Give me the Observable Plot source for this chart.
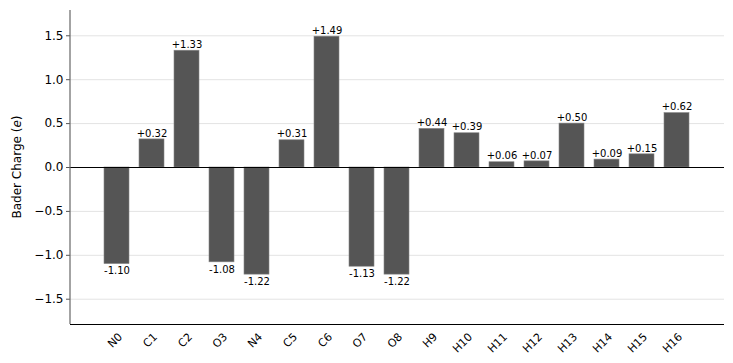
<!DOCTYPE html>
<html>
<head>
<meta charset="utf-8">
<script src="https://cdn.jsdelivr.net/npm/d3@7"></script>
<script src="https://cdn.jsdelivr.net/npm/@observablehq/plot@0.6"></script>
<style>
  html, body { margin: 0; padding: 0; background: #fff; }
  svg { font-family: "DejaVu Sans", sans-serif; }
</style>
</head>
<body>
<div id="chart"></div>
<script>
const atoms = ["N0","C1","C2","O3","N4","C5","C6","O7","O8","H9","H10","H11","H12","H13","H14","H15","H16"];
const charges = [-1.10, 0.32, 1.33, -1.08, -1.22, 0.31, 1.49, -1.13, -1.22, 0.44, 0.39, 0.06, 0.07, 0.50, 0.09, 0.15, 0.62];
const yTicks = [-1.5, -1.0, -0.5, 0.0, 0.5, 1.0, 1.5];

const data = atoms.map((a, i) => ({atom: a, q: charges[i]}));
const lim = 1.2 * d3.max(charges, Math.abs);
const fmtLabel = v => (v >= 0 ? "+" : "") + v.toFixed(2);
const fmtTick = d3.format(".1f");

const W = 733, H = 363;
const mL = 70, mR = 9, mT = 10, mB = 39;

const chart = Plot.plot({
  width: W,
  height: H,
  marginLeft: mL,
  marginRight: mR,
  marginTop: mT,
  marginBottom: mB,
  style: {fontFamily: "DejaVu Sans, sans-serif", background: "#fff"},
  x: {domain: atoms, range: [99.3, 694], paddingInner: 0.3, paddingOuter: 0, label: null, axis: null},
  y: {domain: [-lim, lim], label: null},
  marks: [
    Plot.ruleY(yTicks, {stroke: "#e3e3e3", strokeWidth: 1}),
    Plot.barY(data, {x: "atom", y: "q", fill: "#555555", stroke: "#888888", strokeWidth: 0.6}),
    Plot.ruleY([0], {stroke: "#000", strokeWidth: 1}),
    Plot.text(data.filter(d => d.q >= 0), {x: "atom", y: "q", text: d => fmtLabel(d.q), dy: -6, fontSize: 10, fill: "#000"}),
    Plot.text(data.filter(d => d.q < 0), {x: "atom", y: "q", text: d => fmtLabel(d.q), dy: 7, fontSize: 10, fill: "#000"}),
    Plot.axisY({ticks: yTicks, tickFormat: fmtTick, tickSize: 4, tickPadding: 3, stroke: "#555", fontSize: 12, fill: "#000", label: null}),
    Plot.ruleY([-lim], {stroke: "#000", strokeWidth: 1.2}),
  ]
});

const svg = d3.select(chart);
const xs = chart.scale("x");
const ys = chart.scale("y");
const bw = xs.bandwidth || 0;
const yBase = ys.apply(-lim);
const c = Math.SQRT1_2;

// rotated x tick labels placed with the plot's own scales
const g = svg.append("g")
  .attr("font-size", 11)
  .attr("fill", "#000")
  .attr("text-anchor", "end");
atoms.forEach(a => {
  const cx = xs.apply(a) + bw / 2;
  g.append("g")
    .attr("transform", `translate(${cx + 4},${yBase + 11})`)
    .append("text")
    .attr("transform", `matrix(${c},${-c},${c},${c},0,0)`)
    .attr("dy", "0.32em")
    .text(a);
});

// left spine
svg.append("line")
  .attr("x1", mL).attr("x2", mL)
  .attr("y1", mT).attr("y2", H - mB)
  .attr("stroke", "#666").attr("stroke-width", 1.2);

// y axis title with italic e
const t = svg.append("text")
  .attr("transform", `translate(21,${(mT + H - mB) / 2}) rotate(-90)`)
  .attr("text-anchor", "middle")
  .attr("font-size", 12)
  .attr("fill", "#000");
t.append("tspan").text("Bader Charge (");
t.append("tspan").attr("font-style", "italic").text("e");
t.append("tspan").text(")");

document.getElementById("chart").appendChild(chart);
</script>
</body>
</html>
